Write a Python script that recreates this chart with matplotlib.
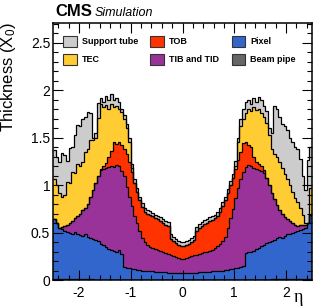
import numpy as np
import matplotlib
matplotlib.use('Agg')
import matplotlib.pyplot as plt
from matplotlib.patches import Patch
from matplotlib.ticker import MultipleLocator, FormatStrFormatter

plt.rcParams['font.family'] = ['Liberation Sans', 'DejaVu Sans']
plt.rcParams['mathtext.fontset'] = 'custom'
plt.rcParams['mathtext.rm'] = 'Liberation Sans'
plt.rcParams['mathtext.it'] = 'Liberation Sans:italic'
plt.rcParams['axes.unicode_minus'] = False

# 100 bins in eta from -2.5 to 2.5, values are the cumulative (stacked) thickness in X0
eta_edges = np.linspace(-2.5, 2.5, 101)

beam_pipe_top = [
    0.012, 0.011, 0.010, 0.010, 0.009, 0.009, 0.008, 0.008, 0.008, 0.007,
    0.007, 0.007, 0.006, 0.006, 0.006, 0.006, 0.005, 0.005, 0.005, 0.005,
    0.005, 0.004, 0.004, 0.004, 0.004, 0.004, 0.004, 0.004, 0.004, 0.003,
    0.003, 0.003, 0.003, 0.003, 0.003, 0.003, 0.003, 0.003, 0.003, 0.003,
    0.003, 0.003, 0.003, 0.003, 0.003, 0.003, 0.003, 0.003, 0.003, 0.003,
    0.003, 0.003, 0.003, 0.003, 0.003, 0.003, 0.003, 0.003, 0.003, 0.003,
    0.003, 0.003, 0.003, 0.003, 0.003, 0.003, 0.003, 0.003, 0.003, 0.003,
    0.003, 0.004, 0.004, 0.004, 0.004, 0.004, 0.004, 0.004, 0.004, 0.005,
    0.005, 0.005, 0.005, 0.005, 0.006, 0.006, 0.006, 0.006, 0.007, 0.007,
    0.007, 0.008, 0.008, 0.008, 0.009, 0.009, 0.010, 0.010, 0.011, 0.012,
]

pixel_top = [
    0.64, 0.60, 0.55, 0.54, 0.52, 0.51, 0.50, 0.49, 0.51, 0.48,
    0.47, 0.46, 0.48, 0.45, 0.44, 0.43, 0.42, 0.41, 0.38, 0.37,
    0.35, 0.33, 0.32, 0.31, 0.30, 0.32, 0.27, 0.14, 0.13, 0.125,
    0.12, 0.115, 0.11, 0.105, 0.10, 0.098, 0.095, 0.092, 0.09, 0.088,
    0.086, 0.084, 0.082, 0.08, 0.079, 0.078, 0.077, 0.076, 0.076, 0.075,
    0.075, 0.076, 0.076, 0.077, 0.078, 0.079, 0.08, 0.082, 0.084, 0.086,
    0.088, 0.09, 0.092, 0.095, 0.098, 0.10, 0.105, 0.11, 0.115, 0.12,
    0.125, 0.13, 0.14, 0.15, 0.28, 0.30, 0.29, 0.31, 0.33, 0.34,
    0.36, 0.37, 0.39, 0.40, 0.41, 0.42, 0.44, 0.45, 0.44, 0.46,
    0.48, 0.49, 0.50, 0.51, 0.52, 0.53, 0.54, 0.55, 0.60, 0.69,
]

tib_tid_top = [
    0.64, 0.60, 0.55, 0.56, 0.57, 0.58, 0.60, 0.62, 0.65, 0.67,
    0.70, 0.74, 0.76, 0.80, 0.88, 0.95, 1.02, 1.10, 1.16, 1.17,
    1.18, 1.19, 1.20, 1.19, 1.21, 1.20, 1.15, 1.10, 0.98, 0.88,
    0.78, 0.67, 0.60, 0.52, 0.44, 0.40, 0.37, 0.35, 0.34, 0.33,
    0.32, 0.31, 0.30, 0.28, 0.27, 0.26, 0.25, 0.24, 0.23, 0.22,
    0.22, 0.23, 0.24, 0.25, 0.26, 0.26, 0.27, 0.28, 0.29, 0.30,
    0.31, 0.32, 0.34, 0.36, 0.38, 0.41, 0.45, 0.55, 0.65, 0.75,
    0.86, 0.97, 1.06, 1.14, 1.19, 1.21, 1.20, 1.18, 1.17, 1.16,
    1.15, 1.13, 1.08, 1.00, 0.92, 0.85, 0.79, 0.74, 0.70, 0.66,
    0.64, 0.62, 0.60, 0.58, 0.57, 0.58, 0.58, 0.58, 0.60, 0.69,
]

tob_top = [
    0.64, 0.60, 0.55, 0.56, 0.57, 0.58, 0.60, 0.62, 0.65, 0.67,
    0.70, 0.74, 0.76, 0.80, 0.88, 0.95, 1.02, 1.10, 1.17, 1.20,
    1.23, 1.30, 1.36, 1.45, 1.43, 1.46, 1.42, 1.38, 1.33, 1.24,
    1.14, 1.02, 0.93, 0.84, 0.77, 0.72, 0.70, 0.69, 0.67, 0.65,
    0.64, 0.62, 0.60, 0.58, 0.57, 0.43, 0.41, 0.39, 0.37, 0.36,
    0.36, 0.37, 0.38, 0.40, 0.42, 0.52, 0.55, 0.57, 0.59, 0.60,
    0.62, 0.63, 0.65, 0.68, 0.72, 0.78, 0.84, 0.92, 1.00, 1.08,
    1.17, 1.27, 1.35, 1.44, 1.46, 1.42, 1.40, 1.30, 1.24, 1.22,
    1.20, 1.16, 1.08, 1.00, 0.92, 0.85, 0.79, 0.74, 0.70, 0.66,
    0.64, 0.62, 0.60, 0.58, 0.57, 0.58, 0.58, 0.58, 0.60, 0.69,
]

tec_top = [
    1.07, 1.00, 0.92, 0.88, 0.90, 1.03, 1.02, 1.14, 1.13, 1.22,
    1.20, 1.24, 1.35, 1.38, 1.48, 1.48, 1.50, 1.71, 1.86, 1.82,
    1.85, 1.80, 1.86, 1.82, 1.84, 1.80, 1.77, 1.70, 1.60, 1.45,
    1.18, 1.02, 0.93, 0.84, 0.77, 0.72, 0.70, 0.69, 0.67, 0.65,
    0.64, 0.62, 0.60, 0.58, 0.57, 0.43, 0.41, 0.39, 0.37, 0.36,
    0.36, 0.37, 0.38, 0.40, 0.42, 0.52, 0.55, 0.57, 0.59, 0.60,
    0.62, 0.63, 0.65, 0.68, 0.72, 0.78, 0.84, 0.92, 1.00, 1.08,
    1.20, 1.45, 1.62, 1.70, 1.76, 1.80, 1.78, 1.82, 1.79, 1.80,
    1.76, 1.72, 1.66, 1.53, 1.38, 1.33, 1.30, 1.24, 1.18, 1.12,
    1.06, 1.00, 0.93, 0.86, 0.82, 0.76, 0.69, 0.60, 0.60, 0.97,
]

support_tube_top = [
    1.37, 1.30, 1.24, 1.34, 1.32, 1.26, 1.39, 1.40, 1.53, 1.63,
    1.62, 1.70, 1.72, 1.77, 1.76, 1.50, 1.55, 1.87, 1.92, 1.88,
    1.94, 1.90, 1.96, 1.90, 1.92, 1.88, 1.80, 1.74, 1.65, 1.50,
    1.22, 1.07, 0.97, 0.88, 0.81, 0.76, 0.74, 0.73, 0.71, 0.69,
    0.68, 0.66, 0.64, 0.62, 0.61, 0.48, 0.45, 0.43, 0.41, 0.40,
    0.40, 0.41, 0.42, 0.44, 0.46, 0.56, 0.59, 0.61, 0.63, 0.64,
    0.66, 0.67, 0.69, 0.72, 0.76, 0.82, 0.88, 0.96, 1.04, 1.12,
    1.25, 1.50, 1.70, 1.80, 1.88, 1.90, 1.86, 1.92, 1.88, 1.93,
    1.90, 1.84, 1.78, 1.60, 1.55, 1.83, 1.80, 1.72, 1.65, 1.62,
    1.58, 1.50, 1.45, 1.40, 1.38, 1.28, 1.10, 0.95, 1.27, 1.40,
]

layers = [
    ('Beam pipe', beam_pipe_top, '#666666'),
    ('Pixel', pixel_top, '#3366cc'),
    ('TIB and TID', tib_tid_top, '#993399'),
    ('TOB', tob_top, '#ff3300'),
    ('TEC', tec_top, '#ffcc33'),
    ('Support tube', support_tube_top, '#cccccc'),
]

fig = plt.figure(figsize=(3.16, 3.07), dpi=100)
ax = fig.add_axes([53/316, 1 - 280/307, 259/316, 257/307])

lower = np.zeros(len(eta_edges) - 1)
for name, top, col in layers:
    top = np.asarray(top)
    ax.stairs(top, eta_edges, baseline=lower, fill=True, color=col, lw=0)
    lower = top
for name, top, col in layers:
    ax.stairs(top, eta_edges, baseline=None, color='black', lw=0.9)

ax.set_xlim(-2.5, 2.5)
ax.set_ylim(0, 2.71)
ax.xaxis.set_major_locator(MultipleLocator(1))
ax.xaxis.set_minor_locator(MultipleLocator(0.2))
ax.yaxis.set_major_locator(MultipleLocator(0.5))
ax.yaxis.set_minor_locator(MultipleLocator(0.1))
ax.yaxis.set_major_formatter(FormatStrFormatter('%g'))
ax.tick_params(which='both', direction='in', top=True, right=True, width=0.8, labelsize=10)
ax.tick_params(which='major', length=7)
ax.tick_params(which='minor', length=3.5)
ax.tick_params(axis='x', pad=4)
ax.tick_params(axis='y', pad=2)
for s in ax.spines.values():
    s.set_linewidth(1.1)

# legend, filled column by column
order = ['Support tube', 'TEC', 'TOB', 'TIB and TID', 'Pixel', 'Beam pipe']
colors = {name: col for name, top, col in layers}
handles = [Patch(facecolor=colors[n], edgecolor='#333333', lw=0.8, label=n) for n in order]
ax.legend(handles=handles, ncols=3, loc='upper left', bbox_to_anchor=(10/259, 1 - 13/257),
          frameon=False, borderpad=0, borderaxespad=0,
          prop={'weight': 'bold', 'size': 6.5}, handlelength=1.5, handleheight=1.45,
          handletextpad=0.55, columnspacing=1.4, labelspacing=0.8)

fig.text(55/316, 1 - 12/307, 'CMS', weight='bold', size=12, va='center')
fig.text(95/316, 1 - 12.5/307, 'Simulation', style='italic', size=9, va='center')
fig.text(9/316, 1 - 22/307, 'Thickness (X$_0$)', rotation=90, ha='center', va='top', size=12)
fig.text(298/316, 1 - 306/307, 'η', family='Liberation Serif', size=13, ha='center', va='bottom')

fig.savefig('out.png', dpi=100)
